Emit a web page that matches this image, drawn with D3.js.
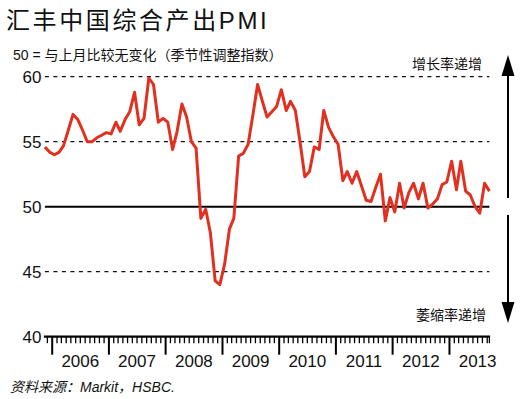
<!DOCTYPE html>
<html>
<head>
<meta charset="utf-8">
<script src="https://cdn.jsdelivr.net/npm/d3@7"></script>
<style>
  body { margin: 0; background: #fff; }
  svg { display: block; font-family: "Liberation Sans", Arial, "Noto Sans CJK SC", sans-serif; }
</style>
</head>
<body>
<div id="chart"></div>
<script>
// monthly composite PMI, Nov 2005 .. Sep 2013
const firstMonth = '2005-11';
const pmiValues = [
  54.6, 54.2,
  54.0, 54.2, 54.7, 55.9, 57.1, 56.7, 55.9, 55.0, 55.0, 55.3, 55.5, 55.7,
  55.6, 56.5, 55.8, 56.7, 57.3, 58.8, 56.3, 56.8, 59.9, 59.4, 56.5, 56.8,
  56.5, 54.4, 55.8, 57.9, 56.9, 55.0, 54.5, 49.1, 49.8, 48.0, 44.3, 44.0,
  45.6, 48.3, 49.1, 53.9, 54.1, 54.8, 57.0, 59.4, 58.1, 56.9, 57.3, 57.7,
  59.0, 57.4, 58.1, 57.4, 55.0, 52.3, 52.7, 54.6, 54.4, 57.4, 56.1, 55.4,
  54.8, 52.0, 52.7, 51.8, 52.7, 51.6, 50.5, 50.4, 51.5, 52.5, 48.9, 50.7,
  49.6, 51.8, 49.9, 51.1, 51.8, 50.6, 51.8, 49.9, 50.2, 50.6, 51.7, 51.9,
  53.5, 51.3, 53.5, 51.2, 50.9, 50.0, 49.5, 51.8, 51.2
];
const yTicks = [40, 45, 50, 55, 60];
const dashedLevels = [45, 55, 60];
const yearLabels = ['2006', '2007', '2008', '2009', '2010', '2011', '2012', '2013'];

const titleText = '汇丰中国综合产出PMI';
const subtitleText = '50 = 与上月比较无变化（季节性调整指数）';
const upText = '增长率递增';
const downText = '萎缩率递增';
const sourceText = '资料来源：Markit，HSBC.';

const W = 532, H = 399;
const start = d3.timeParse('%Y-%m')(firstMonth);
const data = pmiValues.map((v, i) => ({ date: d3.timeDay.offset(d3.timeMonth.offset(start, i), 14), value: v }));

const x = d3.scaleTime()
  .domain(d3.extent(data, d => d.date))
  .range([44.9, 489.4]);
const y = d3.scaleLinear().domain([40, 60]).range([336.7, 76.7]);

const svg = d3.select('#chart').append('svg')
  .attr('width', W)
  .attr('height', H);

svg.append('text')
  .attr('x', 6).attr('y', 29)
  .style('font-size', '24px')
  .style('letter-spacing', '2.6px')
  .attr('fill', '#111')
  .text(titleText);

svg.append('text')
  .attr('x', 13).attr('y', 60)
  .style('font-size', '14px')
  .attr('fill', '#111')
  .text(subtitleText);

const [x0, x1] = x.range();

// dashed reference levels
svg.selectAll('.grid')
  .data(dashedLevels)
  .join('line')
  .attr('class', 'grid')
  .attr('x1', x0).attr('x2', x1)
  .attr('y1', d => y(d)).attr('y2', d => y(d))
  .attr('stroke', '#111')
  .attr('stroke-width', 1.3)
  .attr('stroke-dasharray', '4,4.5');

// 50 line
svg.append('line')
  .attr('x1', x0).attr('x2', x1)
  .attr('y1', y(50)).attr('y2', y(50))
  .attr('stroke', '#000')
  .attr('stroke-width', 2);

// y labels
svg.selectAll('.ylab')
  .data(yTicks)
  .join('text')
  .attr('class', 'ylab')
  .attr('x', 41.5)
  .attr('y', d => y(d))
  .attr('dy', '0.36em')
  .attr('text-anchor', 'end')
  .style('font-size', '17px')
  .attr('fill', '#111')
  .text(d => d);

// x axis: monthly minor ticks, January major ticks
const xAxis = svg.append('g').attr('transform', `translate(0,${y(40)})`);
const months = d3.timeMonth.range(d3.timeMonth.ceil(x.domain()[0]), x.domain()[1]);
xAxis.selectAll('.tick')
  .data(months)
  .join('line')
  .attr('class', 'tick')
  .attr('x1', d => x(d)).attr('x2', d => x(d))
  .attr('y1', 0)
  .attr('y2', d => d.getMonth() === 0 ? 18 : 6.5)
  .attr('stroke', '#000')
  .attr('stroke-width', d => d.getMonth() === 0 ? 2 : 1.3);
xAxis.append('line')
  .attr('x1', x1).attr('x2', x1)
  .attr('y1', 0).attr('y2', 6.5)
  .attr('stroke', '#000').attr('stroke-width', 1.3);
xAxis.append('line')
  .attr('x1', x0 - 1).attr('x2', x1 + 0.7)
  .attr('y1', 0).attr('y2', 0)
  .attr('stroke', '#000')
  .attr('stroke-width', 2.2);
xAxis.selectAll('.year')
  .data(yearLabels)
  .join('text')
  .attr('class', 'year')
  .attr('x', d => x(new Date(+d, 6, 1)))
  .attr('y', 30)
  .attr('text-anchor', 'middle')
  .style('font-size', '17px')
  .attr('fill', '#111')
  .text(d => d);

// PMI line
svg.append('path')
  .datum(data)
  .attr('fill', 'none')
  .attr('stroke', '#e1301f')
  .attr('stroke-width', 3)
  .attr('stroke-linejoin', 'round')
  .attr('d', d3.line().x(d => x(d.date)).y(d => y(d.value)));

// direction arrows at right
const ax = 508;

svg.append('line')
  .attr('x1', ax).attr('x2', ax)
  .attr('y1', 198).attr('y2', 66)
  .attr('stroke', '#000').attr('stroke-width', 2);
svg.append('path')
  .attr('d', `M${ax},55 L${ax - 6.5},76 L${ax + 6.5},76 Z`)
  .attr('fill', '#000');

svg.append('line')
  .attr('x1', ax).attr('x2', ax)
  .attr('y1', 215).attr('y2', 312)
  .attr('stroke', '#000').attr('stroke-width', 2);
svg.append('path')
  .attr('d', `M${ax},323 L${ax - 6.5},302 L${ax + 6.5},302 Z`)
  .attr('fill', '#000');

svg.append('text')
  .attr('x', 482).attr('y', 64)
  .attr('dy', '0.35em')
  .attr('text-anchor', 'end')
  .style('font-size', '14px')
  .attr('fill', '#111')
  .text(upText);

svg.append('text')
  .attr('x', 486).attr('y', 315)
  .attr('dy', '0.35em')
  .attr('text-anchor', 'end')
  .style('font-size', '14px')
  .attr('fill', '#111')
  .text(downText);

svg.append('text')
  .attr('x', 10).attr('y', 392)
  .style('font-size', '14px')
  .style('font-style', 'italic')
  .attr('fill', '#111')
  .text(sourceText);
</script>
</body>
</html>
